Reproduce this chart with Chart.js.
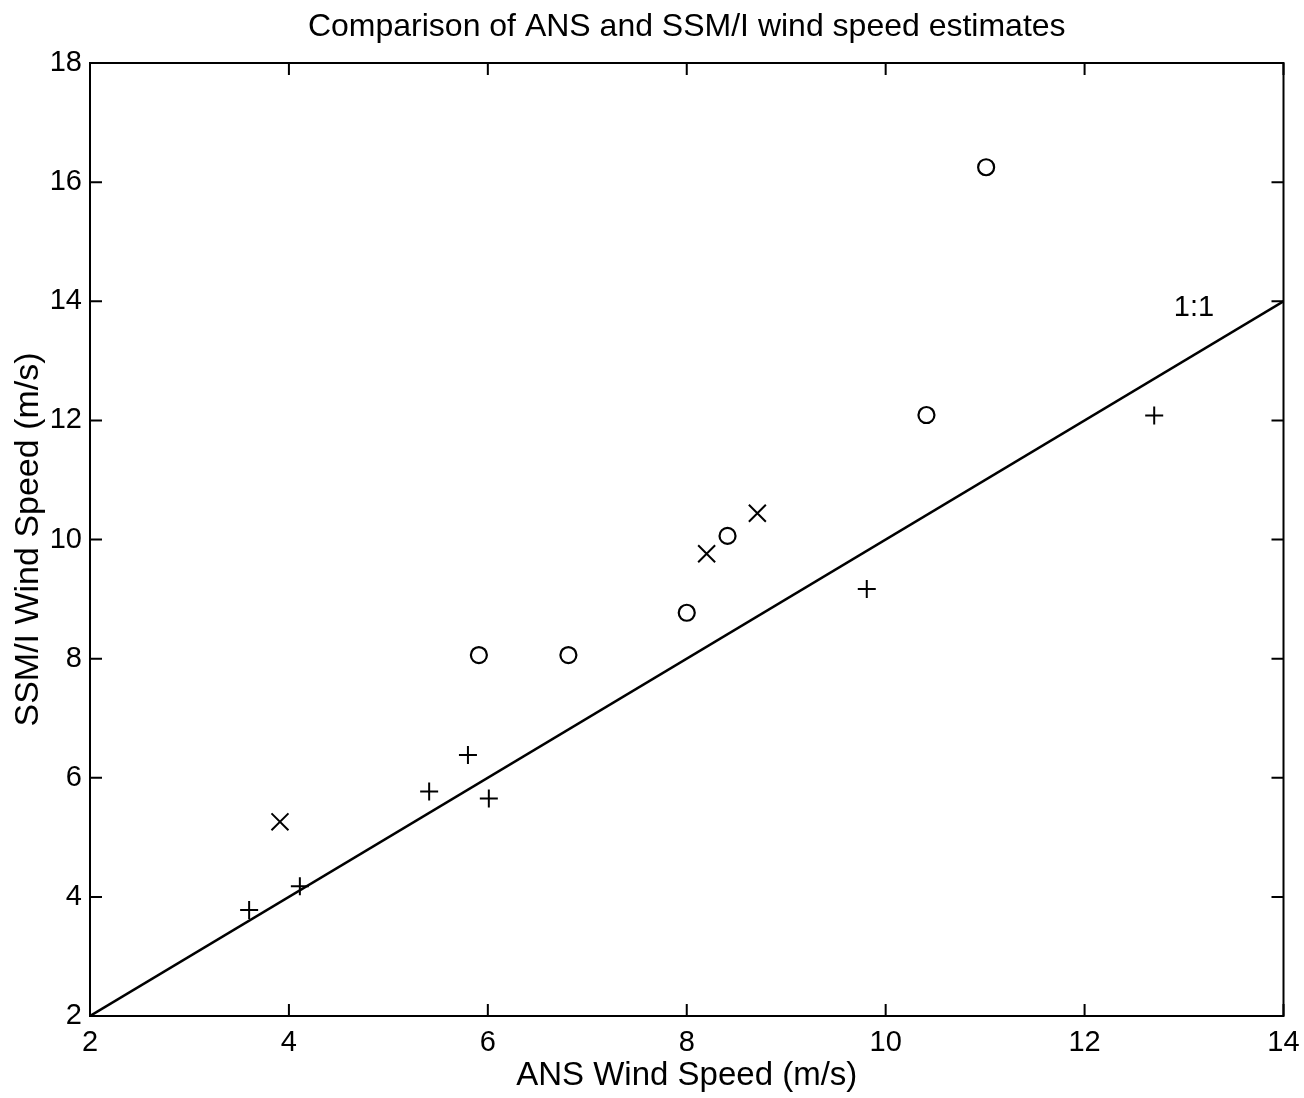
<!DOCTYPE html>
<html>
<head>
<meta charset="utf-8">
<script src="https://cdn.jsdelivr.net/npm/chart.js@4.4.1/dist/chart.umd.min.js"></script>
<style>
html,body{margin:0;padding:0;background:#fff;}
#wrap{width:1304px;height:1098px;}
</style>
</head>
<body>
<div id="wrap"><canvas id="c" width="1304" height="1098"></canvas></div>
<script>
// Data
const plusX  = [3.60, 4.11, 5.41, 5.80, 6.01, 9.81, 12.70];
const plusY  = [3.78, 4.18, 5.77, 6.38, 5.65, 9.17, 12.08];
const crossX = [3.91, 8.20, 8.71];
const crossY = [5.26, 9.76, 10.44];
const circX  = [5.91, 6.81, 8.00, 8.41, 10.41, 11.01];
const circY  = [8.06, 8.06, 8.77, 10.06, 12.09, 16.25];
const lineX  = [2, 14];
const lineY  = [2, 14];
const xTicks = [2, 4, 6, 8, 10, 12, 14];
const yTicks = [2, 4, 6, 8, 10, 12, 14, 16, 18];
const lineLabel = "1:1";
const lineLabelPos = {x: 13.1, y: 13.88};

const pts = (xs, ys) => xs.map((x, i) => ({x: x, y: ys[i]}));
const FONT = "'Liberation Sans', Arial, Helvetica, sans-serif";

const innerTicks = {
  id: 'innerTicks',
  afterDraw(chart) {
    const {ctx, chartArea: a, scales} = chart;
    const L = 12;
    ctx.save();
    ctx.strokeStyle = '#000';
    ctx.lineWidth = 2;
    ctx.strokeRect(a.left, a.top, a.right - a.left, a.bottom - a.top);
    ctx.beginPath();
    xTicks.forEach(v => {
      const px = scales.x.getPixelForValue(v);
      ctx.moveTo(px, a.bottom); ctx.lineTo(px, a.bottom - L);
      ctx.moveTo(px, a.top); ctx.lineTo(px, a.top + L);
    });
    yTicks.forEach(v => {
      const py = scales.y.getPixelForValue(v);
      ctx.moveTo(a.left, py); ctx.lineTo(a.left + L, py);
      ctx.moveTo(a.right, py); ctx.lineTo(a.right - L, py);
    });
    ctx.stroke();
    // 1:1 label
    ctx.fillStyle = '#000';
    ctx.font = '29px ' + FONT;
    ctx.textAlign = 'center';
    ctx.textBaseline = 'middle';
    ctx.fillText(lineLabel, scales.x.getPixelForValue(lineLabelPos.x), scales.y.getPixelForValue(lineLabelPos.y));
    ctx.restore();
  }
};

new Chart(document.getElementById('c'), {
  type: 'scatter',
  data: {
    datasets: [
      {
        type: 'line', label: '1:1', data: pts(lineX, lineY),
        borderColor: '#000', borderWidth: 2.5, pointRadius: 0, fill: false, tension: 0
      },
      {
        label: 'plus', data: pts(plusX, plusY), pointStyle: 'cross',
        pointRadius: 9, borderColor: '#000', borderWidth: 2, backgroundColor: 'transparent'
      },
      {
        label: 'x', data: pts(crossX, crossY), pointStyle: 'crossRot',
        pointRadius: 12, borderColor: '#000', borderWidth: 2, backgroundColor: 'transparent'
      },
      {
        label: 'o', data: pts(circX, circY), pointStyle: 'circle',
        pointRadius: 8, borderColor: '#000', borderWidth: 2.2, backgroundColor: 'transparent'
      }
    ]
  },
  options: {
    responsive: false,
    animation: false,
    layout: {padding: {left: 0, right: 20.5, top: 0, bottom: 0}},
    plugins: {
      legend: {display: false},
      tooltip: {enabled: false},
      title: {
        display: true,
        fullSize: false,
        text: 'Comparison of ANS and SSM/I wind speed estimates',
        color: '#000',
        font: {family: FONT, size: 32, weight: 'normal', lineHeight: 1.2},
        padding: {top: 8, bottom: 16.6}
      }
    },
    scales: {
      x: {
        type: 'linear', min: 2, max: 14,
        afterBuildTicks: s => { s.ticks = xTicks.map(v => ({value: v})); },
        afterFit: s => { s.height = 82; s.paddingLeft = 0; s.paddingRight = 0; },
        grid: {display: false, drawTicks: false},
        border: {display: false},
        ticks: {color: '#000', padding: 10, maxRotation: 0, autoSkip: false,
                font: {family: FONT, size: 29}},
        title: {display: true, text: 'ANS Wind Speed (m/s)', color: '#000',
                font: {family: FONT, size: 33, lineHeight: 1.0}, padding: {top: 0, bottom: 6}}
      },
      y: {
        type: 'linear', min: 2, max: 18,
        afterBuildTicks: s => { s.ticks = yTicks.map(v => ({value: v})); },
        afterFit: s => { s.width = 90; s.paddingTop = 0; s.paddingBottom = 0; },
        grid: {display: false, drawTicks: false},
        border: {display: false},
        ticks: {color: '#000', padding: 8, autoSkip: false,
                font: {family: FONT, size: 29}},
        title: {display: true, text: 'SSM/I Wind Speed (m/s)', color: '#000',
                font: {family: FONT, size: 34, lineHeight: 1.0}, padding: {top: 12, bottom: 0}}
      }
    }
  },
  plugins: [innerTicks]
});
</script>
</body>
</html>
